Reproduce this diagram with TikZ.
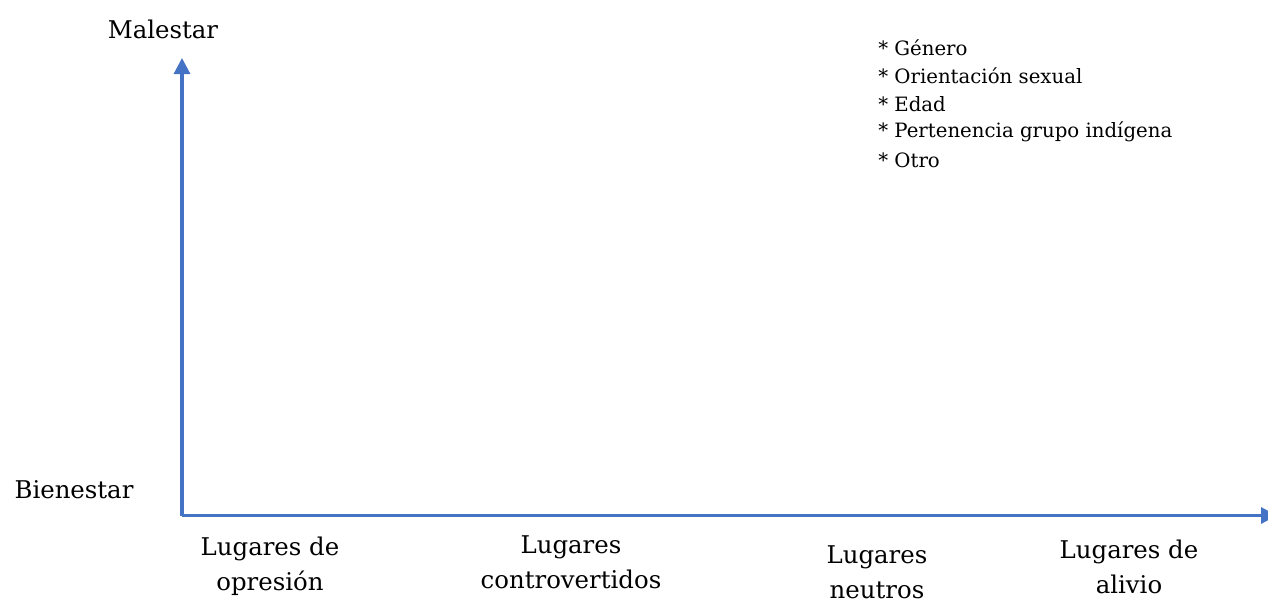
\documentclass[tikz,border=0pt]{standalone}
\usepackage{fontspec}
\setmainfont{DejaVu Serif}
\usetikzlibrary{arrows.meta}
\definecolor{axisblue}{HTML}{4472C4}
\begin{document}
\begin{tikzpicture}[x=0.75pt,y=-0.75pt,
  axis/.style={draw=axisblue,line width=2.3pt,-{Triangle[length=12pt,width=12pt]}},
  biglabel/.style={inner sep=0pt,font=\fontsize{18.3}{26.5}\selectfont,align=center},
  listitem/.style={inner sep=0pt,anchor=west,font=\fontsize{14.8}{18}\selectfont}]
\useasboundingbox (0,0) rectangle (1268,600);
\coordinate (o) at (182,515.5);
\coordinate (ytop) at (182,58);
\coordinate (xend) at (1277,515.5);
\draw[axis] (o) -- (ytop);
\draw[axis] (o) -- (xend);
\node[biglabel] (mal) at (163,29) {Malestar};
\node[biglabel] (bien) at (74,490) {Bienestar};
\node[biglabel] (opr) at (270,566) {Lugares de\\opresión};
\node[biglabel] (contr) at (571,562) {Lugares\\controvertidos};
\node[biglabel] (neu) at (877,572) {Lugares\\neutros};
\node[biglabel] (ali) at (1129,567) {Lugares de\\alivio};
\node[listitem] (l1) at (878,48) {* Género};
\node[listitem] (l2) at (878,76) {* Orientación sexual};
\node[listitem] (l3) at (878,104) {* Edad};
\node[listitem] (l4) at (878,132) {* Pertenencia grupo indígena};
\node[listitem] (l5) at (878,160) {* Otro};
\end{tikzpicture}
\end{document}
